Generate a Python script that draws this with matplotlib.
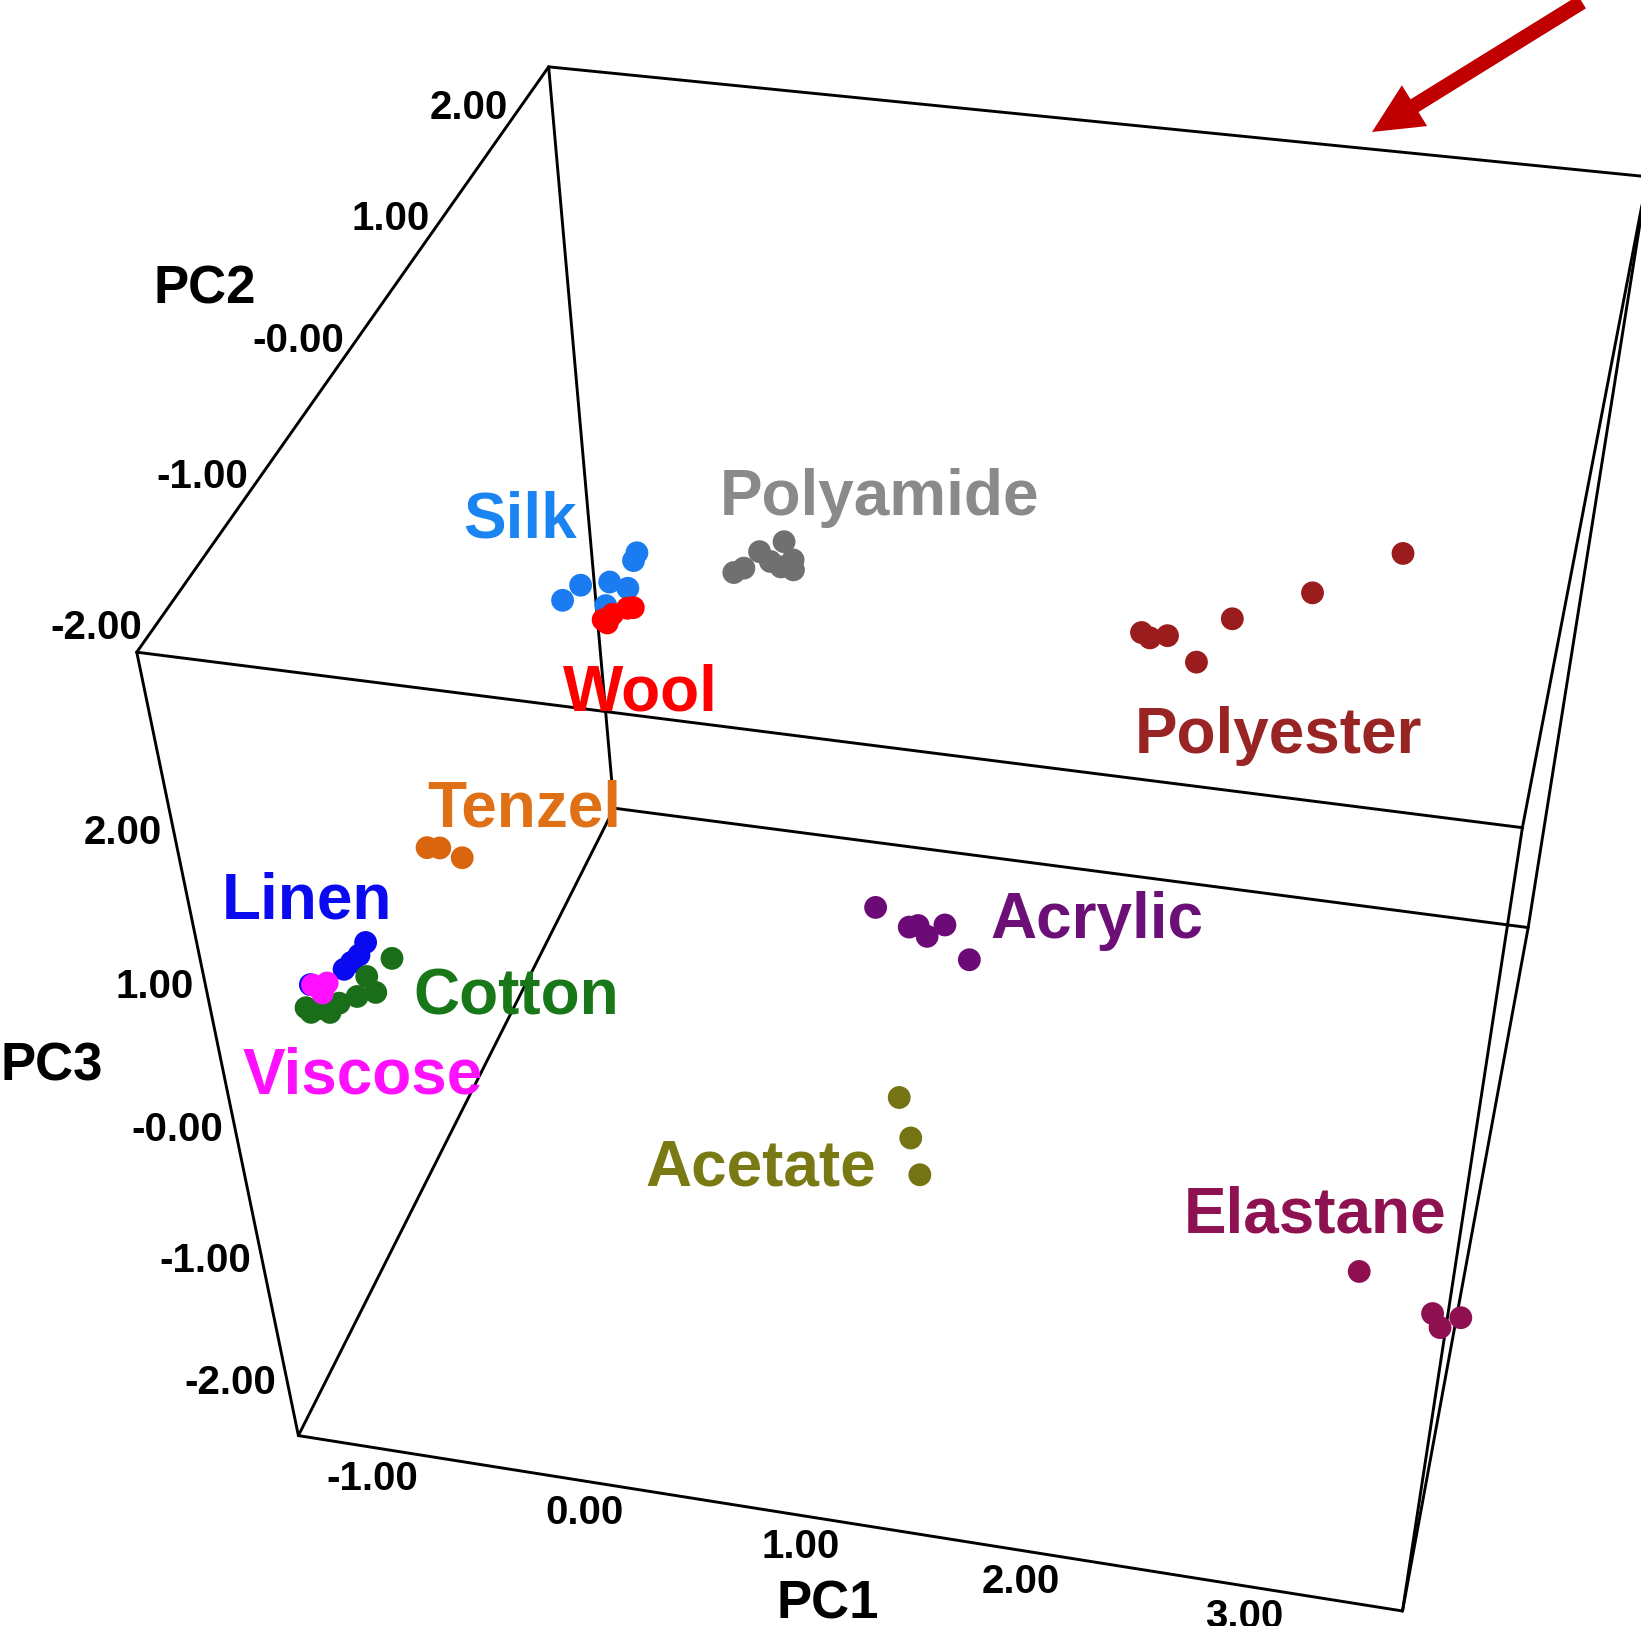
import numpy as np
import matplotlib
matplotlib.use("Agg")
import matplotlib.pyplot as plt
from matplotlib.patches import FancyArrow

# PCA scores (PC1, PC2, PC3) per fibre type
silk_pc1 = [-1.22, -1.12, -0.97, -0.88, -0.84, -0.82, -1.00]
silk_pc2 = [1.5, 1.5, 1.5, 1.5, 1.5, 1.5, 1.5]
silk_pc3 = [0.18, 0.31, 0.36, 0.33, 0.54, 0.60, 0.18]

wool_pc1 = [-1.02, -0.97, -0.89, -0.86, -1.00]
wool_pc2 = [1.5, 1.5, 1.5, 1.5, 1.5]
wool_pc3 = [0.07, 0.12, 0.18, 0.19, 0.05]

polyamide_pc1 = [-0.24, -0.19, -0.11, -0.06, 0.01, 0.05, 0.05, -0.01]
polyamide_pc2 = [1.2, 1.2, 1.2, 1.2, 1.2, 1.2, 1.2, 1.2]
polyamide_pc3 = [0.82, 0.86, 0.99, 0.93, 1.08, 0.96, 0.89, 0.90]

polyester_pc1 = [1.74, 1.78, 1.86, 2.00, 2.15, 2.50, 2.88]
polyester_pc2 = [1.0, 1.0, 1.0, 1.0, 1.0, 1.0, 1.0]
polyester_pc3 = [0.93, 0.90, 0.93, 0.77, 1.10, 1.34, 1.67]

tenzel_pc1 = [-1.16, -1.10, -1.00]
tenzel_pc2 = [-0.5, -0.5, -0.5]
tenzel_pc3 = [0.29, 0.30, 0.25]

linen_pc1 = [-1.17, -1.21, -1.25, -1.29, -1.46]
linen_pc2 = [-1.2, -1.2, -1.2, -1.2, -1.2]
linen_pc3 = [0.35, 0.25, 0.19, 0.13, -0.02]

cotton_pc1 = [-1.06, -1.19, -1.16, -1.25, -1.34, -1.43, -1.50, -1.39, -1.48]
cotton_pc2 = [-1.2, -1.2, -1.2, -1.2, -1.2, -1.2, -1.2, -1.2, -1.2]
cotton_pc3 = [0.26, 0.10, -0.01, -0.06, -0.13, -0.19, -0.20, -0.21, -0.23]

viscose_pc1 = [-1.45, -1.38, -1.41]
viscose_pc2 = [-1.2, -1.2, -1.2]
viscose_pc3 = [-0.02, 0.01, -0.07]

acrylic_pc1 = [0.89, 1.04, 1.08, 1.12, 1.20, 1.31]
acrylic_pc2 = [-0.5, -0.5, -0.5, -0.5, -0.5, -0.5]
acrylic_pc3 = [0.29, 0.18, 0.20, 0.13, 0.23, 0.00]

acetate_pc1 = [1.12, 1.17, 1.21]
acetate_pc2 = [-1.0, -1.0, -1.0]
acetate_pc3 = [-0.50, -0.80, -1.08]

elastane_pc1 = [3.24, 3.57, 3.61, 3.69]
elastane_pc2 = [-1.5, -1.5, -1.5, -1.5]
elastane_pc3 = [-0.67, -0.91, -1.01, -0.91]

pc1_ticks = [-1, 0, 1, 2, 3]
pc1_labels = ['-1.00', '0.00', '1.00', '2.00', '3.00']
pc2_ticks = [-2, -1, 0, 1, 2]
pc2_labels = ['-2.00', '-1.00', '-0.00', '1.00', '2.00']
pc3_ticks = [2, 1, 0, -1, -2]
pc3_labels = ['2.00', '1.00', '-0.00', '-1.00', '-2.00']

# box extent in PC units
pc1_lim = (-1.4, 3.65)
pc2_lim = (-2.15, 2.4)
pc3_lim = (-2.4, 3.1)

# where the box corners land on the canvas (pixels) -> perspective camera
corner_px = {
    (0, 0, 1): (137, 652), (1, 0, 1): (1517, 830),
    (1, 0, 0): (1408, 1612), (0, 0, 0): (297, 1433),
    (0, 1, 1): (550, 65), (1, 1, 1): (1650, 177),
    (1, 1, 0): (1525, 925), (0, 1, 0): (614, 812),
}


def corner_xyz(k):
    return (pc1_lim[k[0]], pc2_lim[k[1]], pc3_lim[k[2]])


rows = []
for k, (u, v) in corner_px.items():
    X = np.array(list(corner_xyz(k)) + [1.0])
    u, v = u / 1000, v / 1000
    rows.append(np.concatenate([X, np.zeros(4), -u * X]))
    rows.append(np.concatenate([np.zeros(4), X, -v * X]))
_, _, vt = np.linalg.svd(np.array(rows))
P = vt[-1].reshape(3, 4)


def proj(x, y, z):
    x, y, z = np.broadcast_arrays(np.asarray(x, float), np.asarray(y, float),
                                  np.asarray(z, float))
    h = P @ np.vstack([x.ravel(), y.ravel(), z.ravel(), np.ones(x.size)])
    return h[0] / h[2] * 1000, h[1] / h[2] * 1000


groups = [
    # name, pc1, pc2, pc3, marker colour, text colour, label position
    ('Silk', silk_pc1, silk_pc2, silk_pc3, '#1a7cf0', '#1a84f2', (520, 537)),
    ('Wool', wool_pc1, wool_pc2, wool_pc3, '#ff0000', '#ff0000', (640, 710)),
    ('Polyamide', polyamide_pc1, polyamide_pc2, polyamide_pc3, '#707070', '#8a8a8a', (879, 515)),
    ('Polyester', polyester_pc1, polyester_pc2, polyester_pc3, '#9a1c1c', '#982424', (1278, 753)),
    ('Tenzel', tenzel_pc1, tenzel_pc2, tenzel_pc3, '#d9660f', '#e07016', (524, 826)),
    ('Linen', linen_pc1, linen_pc2, linen_pc3, '#0a0af0', '#0a0af0', (307, 918)),
    ('Cotton', cotton_pc1, cotton_pc2, cotton_pc3, '#1a6e1a', '#187818', (516, 1014)),
    ('Viscose', viscose_pc1, viscose_pc2, viscose_pc3, '#ff10ff', '#ff10ff', (363, 1093)),
    ('Acrylic', acrylic_pc1, acrylic_pc2, acrylic_pc3, '#6c0a78', '#6c1078', (1097, 938)),
    ('Acetate', acetate_pc1, acetate_pc2, acetate_pc3, '#747414', '#7a7a14', (761, 1185)),
    ('Elastane', elastane_pc1, elastane_pc2, elastane_pc3, '#8e1050', '#8e1252', (1315, 1232)),
]

fig = plt.figure(figsize=(16.41, 16.26), dpi=100)
ax = fig.add_axes([0, 0, 1, 1])
ax.set_xlim(0, 1641)
ax.set_ylim(1626, 0)
ax.axis('off')

edges = [((0, 0, 1), (1, 0, 1)), ((1, 0, 1), (1, 0, 0)), ((1, 0, 0), (0, 0, 0)),
         ((0, 0, 0), (0, 0, 1)), ((0, 1, 1), (1, 1, 1)), ((1, 1, 1), (1, 1, 0)),
         ((1, 1, 0), (0, 1, 0)), ((0, 1, 0), (0, 1, 1)), ((0, 0, 1), (0, 1, 1)),
         ((1, 0, 1), (1, 1, 1)), ((1, 0, 0), (1, 1, 0)), ((0, 0, 0), (0, 1, 0))]
for a, b in edges:
    pts = np.array([corner_xyz(a), corner_xyz(b)])
    u, v = proj(pts[:, 0], pts[:, 1], pts[:, 2])
    ax.plot(u, v, color='black', lw=2.1, zorder=1, solid_capstyle='round')

for name, x, y, z, mc, tc, pos in groups:
    u, v = proj(x, y, z)
    ax.scatter(u, v, s=270, color=mc, edgecolors='none', zorder=3)
    ax.text(pos[0], pos[1], name, color=tc, fontsize=46, fontweight='bold',
            family='Liberation Sans', ha='center', va='baseline', zorder=4)

tick_font = dict(fontsize=29, fontweight='bold', family='Liberation Sans', color='black')
# PC1 along the front bottom edge
u, v = proj(pc1_ticks, pc2_lim[0], pc3_lim[0])
for ui, vi, lab in zip(u, v, pc1_labels):
    ax.text(ui - 10, vi + 30, lab, ha='center', va='center', **tick_font)
# PC2 along the top left edge
u, v = proj(pc1_lim[0], pc2_ticks, pc3_lim[1])
for ui, vi, lab in zip(u, v, pc2_labels):
    ax.text(ui - 12, vi, lab, ha='right', va='center', **tick_font)
# PC3 along the front left edge
u, v = proj(pc1_lim[0], pc2_lim[0], pc3_ticks)
for ui, vi, lab in zip(u, v, pc3_labels):
    ax.text(ui - 13, vi - 6, lab, ha='right', va='center', **tick_font)

axis_font = dict(fontsize=38, fontweight='bold', family='Liberation Sans', color='black')
ax.text(205, 289, 'PC2', ha='center', va='center', **axis_font)
ax.text(52, 1066, 'PC3', ha='center', va='center', **axis_font)
ax.text(828, 1604, 'PC1', ha='center', va='center', **axis_font)

# red pointer arrow at the top right
ax.add_patch(FancyArrow(1582, 2, -210, 130, width=15, head_width=48,
                        head_length=50, length_includes_head=True,
                        color='#c00000', lw=0, zorder=5))

fig.savefig('out.png')
